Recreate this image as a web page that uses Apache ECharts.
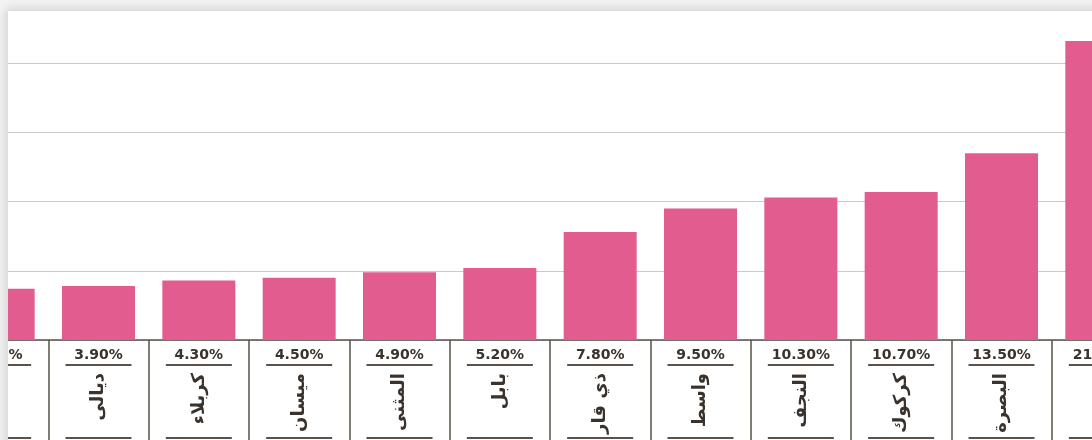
<!DOCTYPE html>
<html>
<head>
<meta charset="utf-8">
<script src="https://cdn.jsdelivr.net/npm/echarts@6/dist/echarts.min.js"></script>
<style>
  html, body { margin: 0; padding: 0; background: #f4f4f4; overflow: hidden; }
  .card {
    position: absolute; left: 8px; top: 11px; width: 1100px; height: 440px;
    background: #fff; box-shadow: 0 0 10px 3px rgba(0, 0, 0, 0.13);
    overflow: hidden;
  }
  /* the chart is wider than the card; the card crops it on both sides */
  #main { position: absolute; left: -60px; top: -17px; width: 1204px; height: 470px; }
</style>
</head>
<body>
<div class="card"><div id="main"></div></div>
<script>
// governorates, sorted by share
var names = ['الأنبار', 'ديالى', 'كربلاء', 'ميسان', 'المثنى', 'بابل', 'ذي قار', 'واسط', 'النجف', 'كركوك', 'البصرة', 'بغداد'];
var values = [3.7, 3.9, 4.3, 4.5, 4.9, 5.2, 7.8, 9.5, 10.3, 10.7, 13.5, 21.6];
var pctLabels = ['3.70%', '3.90%', '4.30%', '4.50%', '4.90%', '5.20%', '7.80%', '9.50%', '10.30%', '10.70%', '13.50%', '21.60%'];

var ink = '#3a322c';
var rule = '#5a524b';

var chart = echarts.init(document.getElementById('main'));
chart.setOption({
  animation: false,
  grid: { left: 0, top: 0, width: 1204, height: 346, containLabel: false },
  xAxis: [
    {
      type: 'category',
      data: names,
      axisLine: { lineStyle: { color: rule, width: 1.5 } },
      axisTick: { show: true, length: 100, interval: 0, lineStyle: { color: rule, width: 1.5 } },
      axisLabel: {
        interval: 0,
        margin: 6,
        formatter: function (v, i) {
          return '{p|' + pctLabels[i] + '}\n{l| }\n{g| }\n{l| }';
        },
        rich: {
          p: { fontFamily: 'DejaVu Sans', fontWeight: 'bold', fontSize: 14, lineHeight: 18, color: ink, align: 'center' },
          l: { fontSize: 1, lineHeight: 2, height: 2, width: 66, backgroundColor: rule, align: 'center' },
          g: { fontSize: 1, lineHeight: 71, height: 71, align: 'center' }
        }
      }
    },
    {
      type: 'category',
      position: 'bottom',
      data: names,
      axisLine: { show: false },
      axisTick: { show: false },
      axisLabel: {
        interval: 0,
        rotate: 90,
        margin: 33,
        fontFamily: 'DejaVu Sans',
        fontWeight: 'bold',
        fontSize: 18,
        color: ink
      }
    }
  ],
  yAxis: {
    type: 'value',
    min: 0,
    max: 25,
    interval: 5,
    axisLine: { show: false },
    axisTick: { show: false },
    axisLabel: { show: false },
    splitLine: { lineStyle: { color: '#cacaca', width: 1 } }
  },
  series: [{
    type: 'bar',
    data: values,
    barWidth: 73,
    itemStyle: { color: '#e35c8f' }
  }]
});
</script>
</body>
</html>
